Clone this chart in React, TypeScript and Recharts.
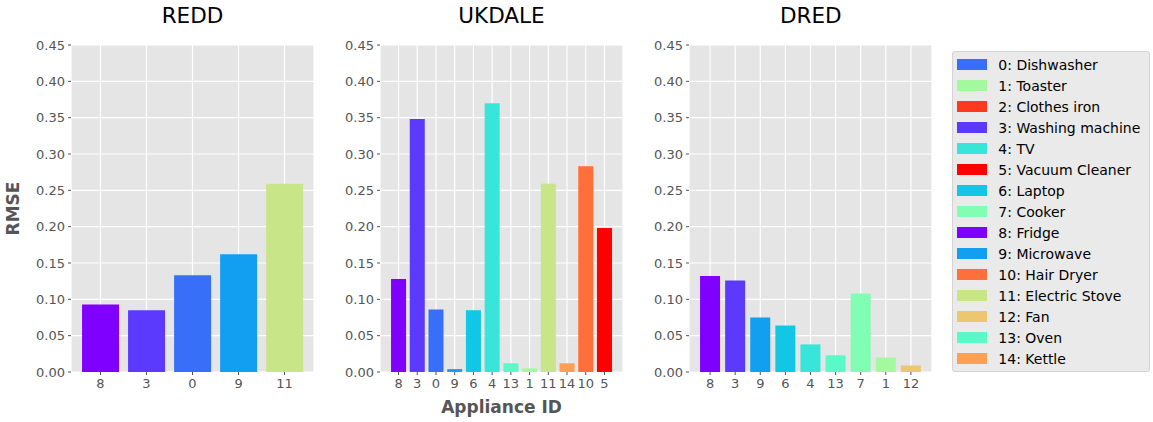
import React from 'react';
import { BarChart, Bar, XAxis, YAxis, CartesianGrid, Cell } from 'recharts';

// ---- Data ----
const applianceNames = [
  'Dishwasher', 'Toaster', 'Clothes iron', 'Washing machine', 'TV',
  'Vacuum Cleaner', 'Laptop', 'Cooker', 'Fridge', 'Microwave',
  'Hair Dryer', 'Electric Stove', 'Fan', 'Oven', 'Kettle',
];
const applianceColors = [
  '#376ff9', '#a4f99f', '#ff391d', '#5b39fd', '#37e6d8',
  '#ff0000', '#12c7e6', '#80ffb4', '#8000ff', '#129ff1',
  '#ff6f39', '#c8e688', '#edc76f', '#5bf9c7', '#ff9f54',
];

const datasetTitles = ['REDD', 'UKDALE', 'DRED'];

const reddIds = [8, 3, 0, 9, 11];
const reddRmse = [0.093, 0.085, 0.133, 0.162, 0.259];

const ukdaleIds = [8, 3, 0, 9, 6, 4, 13, 1, 11, 14, 10, 5];
const ukdaleRmse = [0.128, 0.348, 0.086, 0.004, 0.085, 0.370, 0.012, 0.005, 0.259, 0.012, 0.283, 0.198];

const dredIds = [8, 3, 9, 6, 4, 13, 7, 1, 12];
const dredRmse = [0.132, 0.126, 0.075, 0.064, 0.038, 0.023, 0.108, 0.020, 0.009];

const rmseTicks = [0, 0.05, 0.1, 0.15, 0.2, 0.25, 0.3, 0.35, 0.4, 0.45];

const yAxisLabel = 'RMSE';
const xAxisLabel = 'Appliance ID';

// ---- Layout / style ----
const FONT = '"DejaVu Sans", Verdana, sans-serif';
const CHART_H = 422;
const Y_AXIS_W = 71;
const PLOT_W = 243;
const RIGHT_M = 10;
const TOP_M = 45;
const X_AXIS_H = 50;

const YLabel = (props: any) => {
  const vb = props.viewBox || { x: 0, y: TOP_M, width: Y_AXIS_W, height: 327 };
  const cx = vb.x + 13;
  const cy = vb.y + vb.height / 2;
  return (
    <text
      x={cx}
      y={cy}
      transform={`rotate(-90, ${cx}, ${cy})`}
      textAnchor="middle"
      dominantBaseline="central"
      fill="#555555"
      fontSize={17}
      fontWeight="bold"
      fontFamily={FONT}
    >
      {yAxisLabel}
    </text>
  );
};

function edgePadding(n: number) {
  // matplotlib-like margins: bars span n-0.2 units, 5% margin each side
  const span = n - 0.2;
  const total = span * 1.1;
  const unit = PLOT_W / total;
  return (span * 0.05 - 0.1) * unit;
}

type PanelProps = {
  title: string;
  ids: number[];
  values: number[];
  left: number;
  showYLabel?: boolean;
  showXLabel?: boolean;
};

function Panel({ title, ids, values, left, showYLabel, showXLabel }: PanelProps) {
  const data = ids.map((id, i) => ({ label: String(id), rmse: values[i], color: applianceColors[id] }));
  const pad = edgePadding(ids.length);
  const width = Y_AXIS_W + PLOT_W + RIGHT_M;
  return (
    <div style={{ position: 'absolute', left, top: 0, width, height: CHART_H }}>
      <div
        style={{
          position: 'absolute',
          left: Y_AXIS_W,
          width: PLOT_W,
          top: 5,
          textAlign: 'center',
          fontSize: 21.5,
          lineHeight: '21.5px',
          color: '#000',
          fontFamily: FONT,
        }}
      >
        {title}
      </div>
      <BarChart
        width={width}
        height={CHART_H}
        data={data}
        margin={{ top: TOP_M, right: RIGHT_M, bottom: 0, left: 0 }}
        barCategoryGap="10%"
      >
        <CartesianGrid fill="#e5e5e5" fillOpacity={1} stroke="#ffffff" strokeWidth={1.2} />
        <XAxis
          dataKey="label"
          interval={0}
          height={X_AXIS_H}
          axisLine={false}
          tickLine={{ stroke: '#555555' }}
          tickSize={3}
          tickMargin={4}
          padding={{ left: pad, right: pad }}
          tick={{ fill: '#555555', fontSize: 13, fontFamily: FONT }}
          label={
            showXLabel
              ? {
                  value: xAxisLabel,
                  position: 'insideBottom',
                  offset: 9,
                  fill: '#555555',
                  fontSize: 17,
                  fontWeight: 'bold',
                  fontFamily: FONT,
                }
              : undefined
          }
        />
        <YAxis
          width={Y_AXIS_W}
          domain={[0, 0.45]}
          ticks={rmseTicks}
          interval={0}
          axisLine={false}
          tickLine={{ stroke: '#555555' }}
          tickSize={3}
          tickMargin={3}
          tickFormatter={(v: number) => v.toFixed(2)}
          tick={{ fill: '#555555', fontSize: 13, fontFamily: FONT }}
          label={showYLabel ? <YLabel /> : undefined}
        />
        <Bar dataKey="rmse" isAnimationActive={false}>
          {data.map((d, i) => (
            <Cell key={i} fill={d.color} />
          ))}
        </Bar>
      </BarChart>
    </div>
  );
}

function LegendBox() {
  return (
    <div
      style={{
        position: 'absolute',
        left: 952.3,
        top: 50.5,
        width: 197.7,
        height: 321.2,
        boxSizing: 'border-box',
        background: '#eaeaea',
        border: '1px solid #d4d4d4',
        borderRadius: 3,
        paddingTop: 2.5,
        fontFamily: FONT,
      }}
    >
      {applianceNames.map((name, i) => (
        <div key={i} style={{ height: 21.03, display: 'flex', alignItems: 'center' }}>
          <span
            style={{
              display: 'inline-block',
              marginLeft: 4,
              width: 29.5,
              height: 10.5,
              background: applianceColors[i],
            }}
          />
          <span style={{ marginLeft: 11.5, fontSize: 14, color: '#000', whiteSpace: 'nowrap' }}>
            {i}: {name}
          </span>
        </div>
      ))}
    </div>
  );
}

export default function App() {
  return (
    <div
      style={{
        position: 'absolute',
        left: 0,
        top: 0,
        width: 1153,
        height: 422,
        background: '#ffffff',
        fontFamily: FONT,
      }}
    >
      <Panel title={datasetTitles[0]} ids={reddIds} values={reddRmse} left={0} showYLabel />
      <Panel title={datasetTitles[1]} ids={ukdaleIds} values={ukdaleRmse} left={309} showXLabel />
      <Panel title={datasetTitles[2]} ids={dredIds} values={dredRmse} left={618.3} />
      <LegendBox />
    </div>
  );
}
